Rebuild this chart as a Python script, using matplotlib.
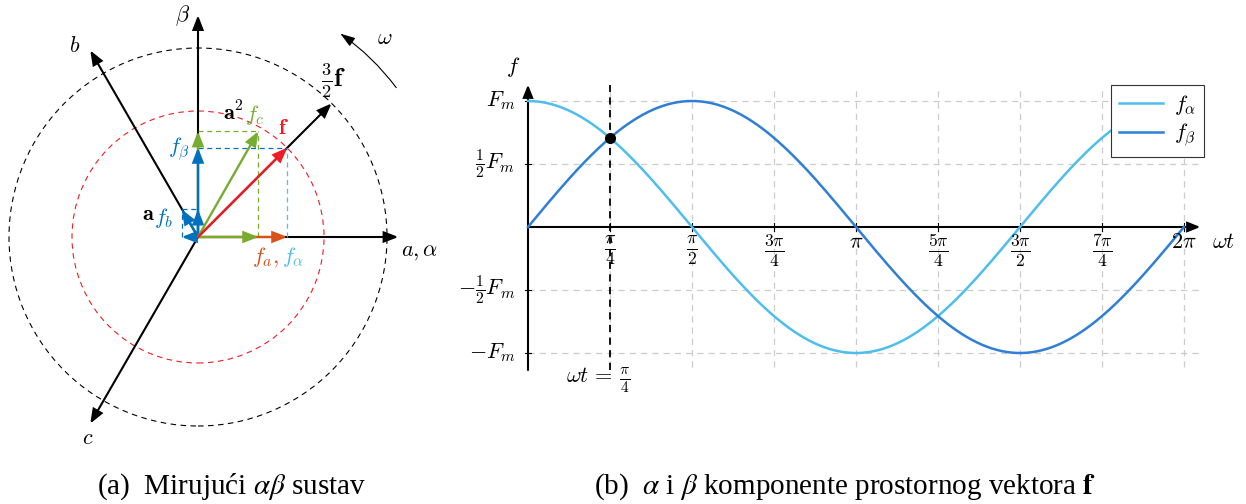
import numpy as np
import matplotlib
matplotlib.use('Agg')
import matplotlib.pyplot as plt
from matplotlib.patches import FancyArrowPatch, Circle

plt.rcParams['mathtext.fontset'] = 'cm'
plt.rcParams['font.family'] = ['Liberation Serif', 'DejaVu Serif']

W, H = 1246, 504

# --- (a) stationary alpha-beta frame, |f| = 1 (red circle), f at 45 deg
axis_names = ['a', 'beta', 'b', 'c']
axis_angles = [0, 90, 120, 240]
axis_lengths = [1.59, 1.76, 1.71, 1.71]
f_vec = [0.71, 0.71]
three_half_f = [1.06, 1.06]
f_alpha = 0.71
f_beta = 0.71
f_a = 0.71
a_fb = [-0.13, 0.22]
a2_fc = [0.48, 0.84]
r_red = 1.0
r_black = 1.5
omega_arc = [37, 55]
omega_r = 1.97

# --- (b) components over one period
Fm = 1.0
wt_ticks = np.arange(9) * np.pi / 4
wt_labels = ['', r'$\frac{\pi}{4}$', r'$\frac{\pi}{2}$', r'$\frac{3\pi}{4}$', r'$\pi$',
             r'$\frac{5\pi}{4}$', r'$\frac{3\pi}{2}$', r'$\frac{7\pi}{4}$', r'$2\pi$']
f_levels = [1.0, 0.5, -0.5, -1.0]
f_level_labels = [r'$F_m$', r'$\frac{1}{2}F_m$', r'$-\frac{1}{2}F_m$', r'$-F_m$']
wt_mark = np.pi / 4

RED = '#ee1d23'
GREEN = '#77ac30'
BLUE = '#0072bd'
ORANGE = '#d95319'
LBLUE = '#4dbeee'
FA_COL = '#4dbeee'
FB_COL = '#2f7ed8'


def arrow(ax, p0, p1, color, lw=1.6, z=3, hl=0.85, hw=0.33, ms=10):
    ax.add_patch(FancyArrowPatch(p0, p1, arrowstyle=f'-|>,head_length={hl},head_width={hw}',
                                 mutation_scale=ms, color=color, lw=lw,
                                 shrinkA=0, shrinkB=0, zorder=z, joinstyle='miter'))


fig = plt.figure(figsize=(W / 100, H / 100), dpi=100)

# ---------------- left panel ----------------
s = 126.0
ox, oy = 198, 237
axl = fig.add_axes([0, 44 / H, 470 / W, 460 / H])
axl.set_xlim(-ox / s, (470 - ox) / s)
axl.set_ylim((oy - 460) / s, oy / s)
axl.axis('off')

axl.add_patch(Circle((0, 0), r_black, fill=False, ls=(0, (5, 4)), lw=0.8, color='black', zorder=1))
axl.add_patch(Circle((0, 0), r_red, fill=False, ls=(0, (5, 4)), lw=0.8, color=RED, zorder=1))

for ang, L in zip(axis_angles, axis_lengths):
    t = np.deg2rad(ang)
    arrow(axl, (0, 0), (L * np.cos(t), L * np.sin(t)), 'black', lw=1.5, z=2)

arrow(axl, (0, 0), tuple(three_half_f), 'black', lw=1.5, z=2)

# projection lines
dash = (0, (4, 3))
axl.plot([a2_fc[0], a2_fc[0]], [0, a2_fc[1]], color=GREEN, lw=0.9, ls=dash, zorder=2)
axl.plot([0, a2_fc[0]], [a2_fc[1], a2_fc[1]], color=GREEN, lw=0.9, ls=dash, zorder=2)
axl.plot([0, f_vec[0]], [f_vec[1], f_vec[1]], color=BLUE, lw=0.9, ls=dash, zorder=2)
axl.plot([f_vec[0], f_vec[0]], [0, f_vec[1]], color=LBLUE, lw=0.9, ls=dash, zorder=2)
axl.plot([a_fb[0], a_fb[0]], [0, a_fb[1]], color=BLUE, lw=0.9, ls=dash, zorder=2)
axl.plot([a_fb[0], 0], [a_fb[1], a_fb[1]], color=BLUE, lw=0.9, ls=dash, zorder=2)

# component arrows
arrow(axl, (0, 0), (f_a, 0), ORANGE, lw=1.7, z=3)
arrow(axl, (0, 0), (a2_fc[0], 0), GREEN, lw=1.7, z=4)
arrow(axl, (0, 0), (0, a2_fc[1]), GREEN, lw=1.7, z=3)
arrow(axl, (0, 0), (0, f_beta), BLUE, lw=1.7, z=4)
arrow(axl, (0, 0), (0, a_fb[1]), BLUE, lw=1.7, z=5)
arrow(axl, (0, 0), (a_fb[0], 0), BLUE, lw=1.7, z=5)
arrow(axl, (0, 0), tuple(a_fb), BLUE, lw=1.7, z=5)
arrow(axl, (0, 0), tuple(a2_fc), GREEN, lw=1.7, z=5)
arrow(axl, (0, 0), tuple(f_vec), RED, lw=1.7, z=6)

# omega rotation arrow
t0, t1 = np.deg2rad(omega_arc)
axl.add_patch(FancyArrowPatch((omega_r * np.cos(t0), omega_r * np.sin(t0)),
                              (omega_r * np.cos(t1), omega_r * np.sin(t1)),
                              connectionstyle='arc3,rad=0.08',
                              arrowstyle='-|>,head_length=0.9,head_width=0.3',
                              mutation_scale=10, color='black', lw=0.8,
                              shrinkA=0, shrinkB=0))


def ptxt(x, y, txt, color='black', size=16, ha='center'):
    axl.text((x - ox) / s, (oy - y) / s, txt, color=color, fontsize=size, ha=ha, va='center')


ptxt(75, 47, r'$b$')
ptxt(88, 440, r'$c$')
ptxt(183, 16, r'$\beta$')
ptxt(420, 253, r'$a,\alpha$')
ptxt(385, 39, r'$\omega$')
ptxt(334, 81, r'$\frac{3}{2}\mathbf{f}$', size=19)
ptxt(233, 113, r'$\mathbf{a}^2$')
ptxt(255, 115, r'$f_c$', color=GREEN)
ptxt(283, 130, r'$\mathbf{f}$', color=RED)
ptxt(179, 149, r'$f_\beta$', color=BLUE)
ptxt(148, 216, r'$\mathbf{a}$')
ptxt(164, 218, r'$f_b$', color=BLUE)
ptxt(266, 257, r'$f_a,$', color=ORANGE)
ptxt(293, 257, r'$f_\alpha$', color=LBLUE)

# ---------------- right panel ----------------
sx = 82 / (np.pi / 4)
sy = 126.0
rx, ry = 528, 227
axr = fig.add_axes([470 / W, 44 / H, 776 / W, 460 / H])
axr.set_xlim((470 - rx) / sx, (1246 - rx) / sx)
axr.set_ylim((ry - 460) / sy, ry / sy)
axr.axis('off')

grid_kw = dict(color='#cccccc', lw=0.9, ls=(0, (5, 4)), zorder=1)
for xt in wt_ticks[1:]:
    axr.plot([xt, xt], [-1.11, 1.09], **grid_kw)
    axr.plot([xt, xt], [-0.03, 0.03], color='black', lw=0.8, zorder=2)
for yl in f_levels:
    axr.plot([0, 6.42], [yl, yl], **grid_kw)
    axr.plot([-0.03, 0.03], [yl, yl], color='black', lw=0.8, zorder=2)

arrow(axr, (0, 0), (6.44, 0), 'black', lw=1.5, z=3, hl=0.75, hw=0.3)
arrow(axr, (0, -1.135), (0, 1.13), 'black', lw=1.5, z=3, hl=0.75, hw=0.3)

wt = np.linspace(0, 2 * np.pi, 400)
l_a, = axr.plot(wt, Fm * np.cos(wt), color=FA_COL, lw=1.8, zorder=4, label=r'$f_\alpha$')
l_b, = axr.plot(wt, Fm * np.sin(wt), color=FB_COL, lw=1.8, zorder=4, label=r'$f_\beta$')

axr.plot([wt_mark, wt_mark], [-1.135, 1.13], color='black', lw=1.3, ls=(0, (4, 3)), zorder=5)
axr.plot([wt_mark], [Fm * np.sin(wt_mark)], 'o', color='black', ms=7, zorder=6)

for xt, lab in zip(wt_ticks[1:], wt_labels[1:]):
    if 'frac' in lab:
        axr.text(xt, -0.185, lab, fontsize=18, ha='center', va='center', zorder=6)
    else:
        axr.text(xt, -0.13, lab, fontsize=16, ha='center', va='center', zorder=6)
for yl, lab in zip(f_levels, f_level_labels):
    axr.text(-0.12, yl, lab, fontsize=16, ha='right', va='center')

axr.text(6.66, -0.13, r'$\omega t$', fontsize=16, ha='center', va='center')
axr.text(-0.14, 1.27, r'$f$', fontsize=16, ha='center', va='center')
axr.text(0.67, -1.22, r'$\omega t\,=\,\frac{\pi}{4}$', fontsize=16, ha='center', va='center')

leg = axr.legend(handles=[l_a, l_b], loc='upper right', bbox_to_anchor=(0.946, 0.815),
                 fontsize=16, frameon=True, fancybox=False, framealpha=1,
                 edgecolor='#333333', borderaxespad=0, handlelength=2.0,
                 handletextpad=0.5, borderpad=0.35, labelspacing=0.2)
leg.get_frame().set_linewidth(0.8)
leg.set_zorder(10)

# ---------------- captions ----------------
fig.text(97 / W, 1 - 487 / H, r'(a)  Mirujući $\alpha\beta$ sustav', fontsize=21,
         va='center', ha='left', math_fontfamily='stix')
fig.text(594 / W, 1 - 487 / H, r'(b)  $\alpha$ i $\beta$ komponente prostornog vektora $\mathbf{f}$',
         fontsize=21, va='center', ha='left', math_fontfamily='stix')

fig.savefig('out.png', dpi=100)
